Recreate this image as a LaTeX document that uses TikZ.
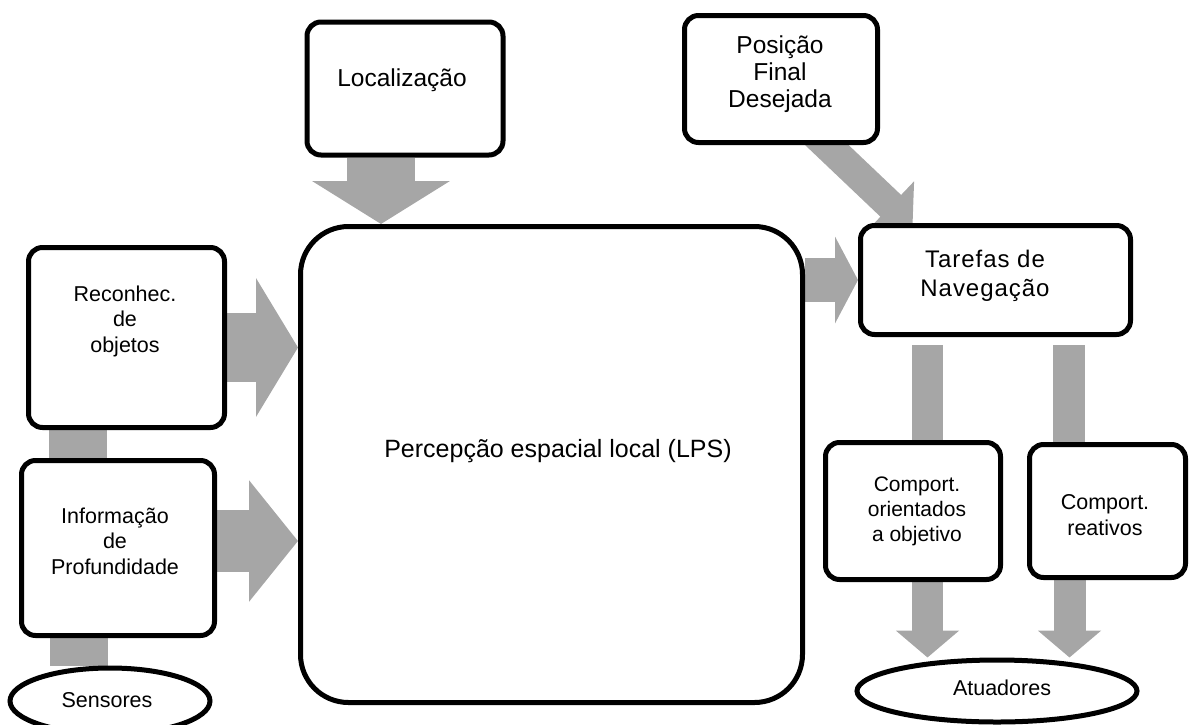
\documentclass[tikz,border=0pt]{standalone}
\usepackage{fontspec}
\setmainfont{Liberation Sans}
\usetikzlibrary{arrows.meta,shapes.geometric,calc}
\definecolor{arrowgray}{RGB}{166,166,166}
\pgfdeclarelayer{bg}
\pgfsetlayers{bg,main}
\begin{document}
\begin{tikzpicture}[x=1pt,y=-1pt,
  box/.style={draw=black, line width=5pt, fill=white, rounded corners=14pt, inner sep=0pt},
  oval/.style={ellipse, draw=black, line width=5pt, fill=white, inner sep=0pt},
  txt/.style={align=center, inner sep=0pt, text=black},
  small/.style={txt, font=\fontsize{21.5}{25.5}\selectfont},
  large/.style={txt, font=\fontsize{24.5}{27}\selectfont},
  flow/.style={draw=arrowgray, line width=#1},
]
\clip (0,0) rectangle (1192,724);
\useasboundingbox (0,0) rectangle (1192,724);

% boxes
\node[box, minimum width=196pt, minimum height=133pt] (loc) at (405,88.5) {};
\node[large] (loct) at (402,80) {Localização};

\node[box, minimum width=193pt, minimum height=127pt] (pos) at (781,79) {};
\node[large] (post) at (780,74.5) {Posição\\Final\\Desejada};

\node[box, minimum width=196pt, minimum height=180pt] (rec) at (126.5,337.5) {};
\node[small] (rect) at (125,321) {Reconhec.\\de\\objetos};

\node[box, minimum width=193pt, minimum height=175pt] (inf) at (118,548) {};
\node[small] (inft) at (115,541) {Informação\\de\\Profundidade};

\node[box, rounded corners=48pt, minimum width=502pt, minimum height=476pt] (lps) at (551.5,464.5) {};
\node[large, font=\fontsize{25}{28}\selectfont] (lpst) at (558,451) {Percepção espacial local (LPS)};

\node[box, minimum width=270pt, minimum height=109pt] (tar) at (995.5,280) {};
\node[large, font=\fontsize{24}{29}\selectfont\addfontfeature{LetterSpace=4}] (tart) at (985,276) {Tarefas de\\Navegação};

\node[box, minimum width=175pt, minimum height=137pt] (cor) at (913,511) {};
\node[small, font=\fontsize{21}{25}\selectfont] (cort) at (917,511) {Comport.\\orientados\\a objetivo};

\node[box, minimum width=156pt, minimum height=133pt] (cre) at (1107.5,511) {};
\node[small] (cret) at (1105,515) {Comport.\\reativos};

\node[oval, minimum width=200pt, minimum height=66pt] (sen) at (110,701) {};
\node[small] (sent) at (107,700) {Sensores};

\node[oval, minimum width=280pt, minimum height=62pt] (atu) at (997,691) {};
\node[small] (atut) at (1002,688) {Atuadores};

% gray block arrows behind the boxes
\begin{pgfonlayer}{bg}
  % into the local spatial perception
  \coordinate (l1) at ($(loc.south)+(-24,0)$);
  \draw[flow=68pt, -{Triangle[length=43pt,width=136pt]}] (l1) -- (l1 |- lps.north);
  \coordinate (r1) at ($(rec.east)+(0,10)$);
  \draw[flow=69pt, -{Triangle[length=42pt,width=137pt]}] (r1) -- (lps.west |- r1);
  \coordinate (i1) at ($(inf.east)+(0,-7)$);
  \draw[flow=62pt, -{Triangle[length=49pt,width=119pt]}] (i1) -- (lps.west |- i1);
  % towards the navigation tasks
  \draw[flow=44pt, -{Triangle[length=23pt,width=86pt]}] (lps.east |- tar.west) -- (tar.west);
  \draw[flow=30pt, -{Triangle[length=30pt,width=66pt]}]
    ($(pos.south)+(30,-15)$) -- ($(tar.north west)+(54.5,3.5)$);
  % navigation tasks to the behaviours
  \coordinate (t1) at ($(tar.south)+(-68,8)$);
  \draw[flow=31pt] (t1) -- (t1 |- cor.north);
  \coordinate (t2) at ($(tar.south)+(73.5,8)$);
  \draw[flow=32pt] (t2) -- (t2 |- cre.north);
  % behaviours to the actuators
  \coordinate (c1) at ($(cor.south)+(14.5,0)$);
  \draw[flow=31pt, -{Triangle[length=27pt,width=62pt]}] (c1) -- (c1 |- atu.north);
  \coordinate (c2) at ($(cre.south)+(-38,0)$);
  \draw[flow=32pt, -{Triangle[length=27pt,width=62pt]}] (c2) -- (c2 |- atu.north);
  % sensor chain on the left
  \coordinate (s1) at ($(rec.south)+(-48.5,0)$);
  \draw[flow=58pt] (s1) -- (s1 |- inf.north);
  \coordinate (s2) at ($(inf.south)+(-39,0)$);
  \draw[flow=58pt] (s2) -- (s2 |- sen.north);
\end{pgfonlayer}
\end{tikzpicture}
\end{document}
